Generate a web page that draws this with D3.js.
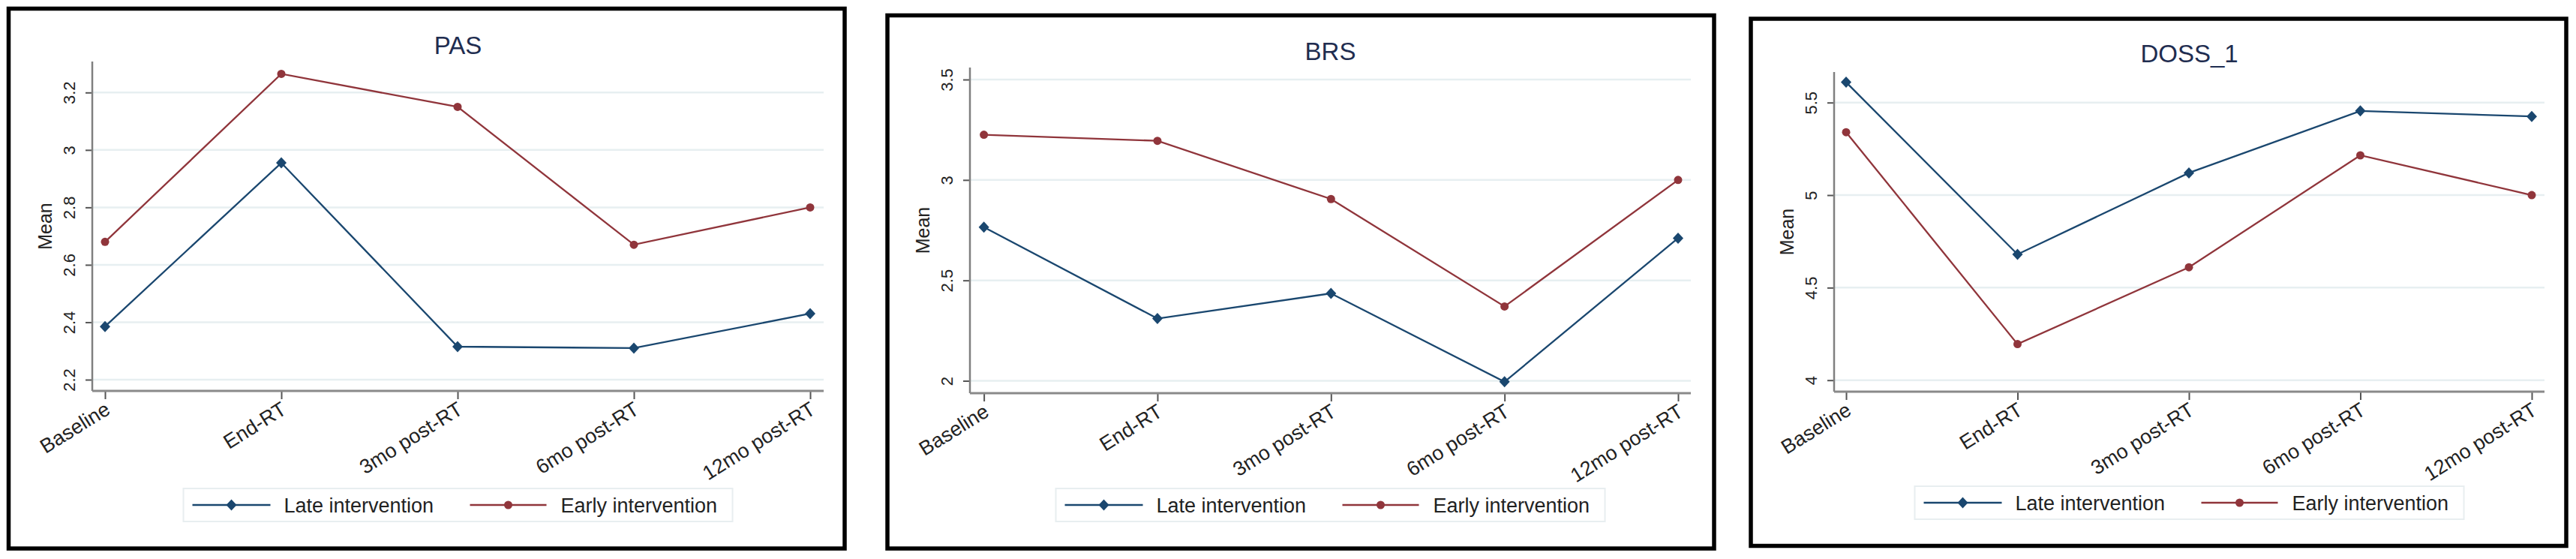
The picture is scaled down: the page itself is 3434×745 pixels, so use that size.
<!DOCTYPE html>
<html><head><meta charset="utf-8">
<script src="https://cdn.jsdelivr.net/npm/d3@7"></script>
<style>body{margin:0;background:#fff}svg{display:block}text{font-family:"Liberation Sans",Arial,sans-serif}</style>
</head><body><svg id="c" width="3434" height="745"></svg>
<script>
// ---- data ----
const categories = ["Baseline","End-RT","3mo post-RT","6mo post-RT","12mo post-RT"];
const seriesNames = ["Late intervention","Early intervention"];
const titles = ["PAS","BRS","DOSS_1"];
const pasLate  = [2.385, 2.955, 2.315, 2.31, 2.43];
const pasEarly = [2.68, 3.265, 3.15, 2.67, 2.80];
const brsLate  = [2.765, 2.31, 2.435, 1.995, 2.71];
const brsEarly = [3.225, 3.195, 2.905, 2.37, 3.0];
const dossLate  = [5.61, 4.68, 5.12, 5.455, 5.425];
const dossEarly = [5.34, 4.195, 4.61, 5.215, 5.0];
const pasTicks  = [2.2, 2.4, 2.6, 2.8, 3, 3.2];
const brsTicks  = [2, 2.5, 3, 3.5];
const dossTicks = [4, 4.5, 5, 5.5];

// ---- layout ----
const panels = [
  {title: titles[0], late: pasLate, early: pasEarly, ticks: pasTicks,
   frame: [11.5, 11.5, 1126, 731], plot: [123, 1098, 82, 521], xr: [140, 1080], yr: [506, 123.3], titleY: 72, legY: 673},
  {title: titles[1], late: brsLate, early: brsEarly, ticks: brsTicks,
   frame: [1183, 20.5, 2285, 731], plot: [1293, 2254, 90, 524], xr: [1311.6, 2237], yr: [507.5, 106], titleY: 80, legY: 673},
  {title: titles[2], late: dossLate, early: dossEarly, ticks: dossTicks,
   frame: [2334, 25, 3421, 727.5], plot: [2445, 3392, 96, 522], xr: [2461, 3375], yr: [506.7, 136.7], titleY: 83, legY: 670}
];
const NAVY = "#1a476f", MAROON = "#90353b";
const diamond = "M0,-7.5L7,0L0,7.5L-7,0Z";
const svg = d3.select("#c");

panels.forEach(p => {
  const g = svg.append("g");
  const [L, R, T, B] = p.plot;
  const cx = (L + R) / 2;
  const x = d3.scalePoint().domain(categories).range(p.xr);
  const y = d3.scaleLinear().domain(d3.extent(p.ticks)).range(p.yr);

  // frame
  g.append("rect").attr("x", p.frame[0]).attr("y", p.frame[1])
    .attr("width", p.frame[2] - p.frame[0]).attr("height", p.frame[3] - p.frame[1])
    .attr("fill", "#fff").attr("stroke", "#000").attr("stroke-width", 5.5);

  // grid
  g.selectAll(".grid").data(p.ticks).join("line")
    .attr("x1", L).attr("x2", R).attr("y1", d => y(d)).attr("y2", d => y(d))
    .attr("stroke", "#e7eff1").attr("stroke-width", 2.5);

  // y axis
  const ya = g.append("g").attr("transform", `translate(${L},0)`)
    .call(d3.axisLeft(y).tickValues(p.ticks).tickSize(9).tickSizeOuter(0).tickFormat(d3.format("~g")));
  ya.select(".domain").remove();
  ya.selectAll(".tick line").attr("stroke", "#555").attr("stroke-width", 2);
  ya.selectAll(".tick text").attr("x", 0).attr("y", -23).attr("dy", 0)
    .attr("transform", "rotate(-90)").attr("text-anchor", "middle")
    .attr("font-size", 22).attr("fill", "#222").attr("font-family", "Liberation Sans, Arial, sans-serif");
  g.append("line").attr("x1", L).attr("x2", L).attr("y1", T).attr("y2", B)
    .attr("stroke", "#808080").attr("stroke-width", 2.5);

  // x axis
  const xa = g.append("g").attr("transform", `translate(0,${B})`)
    .call(d3.axisBottom(x).tickSize(11).tickSizeOuter(0));
  xa.select(".domain").remove();
  xa.selectAll(".tick line").attr("stroke", "#555").attr("stroke-width", 2);
  xa.selectAll(".tick text").attr("x", 0).attr("y", 0).attr("dy", "0.71em")
    .attr("transform", "translate(-2,13) rotate(-32)").attr("text-anchor", "end")
    .attr("font-size", 27).attr("fill", "#222").attr("font-family", "Liberation Sans, Arial, sans-serif");
  g.append("line").attr("x1", L).attr("x2", R).attr("y1", B).attr("y2", B)
    .attr("stroke", "#8a8a8a").attr("stroke-width", 3);

  // y title
  g.append("text").attr("transform", `translate(${L - 54},${(T + B) / 2}) rotate(-90)`)
    .attr("text-anchor", "middle").attr("font-size", 25).attr("fill", "#222").text("Mean");

  // title
  g.append("text").attr("x", cx).attr("y", p.titleY).attr("text-anchor", "middle")
    .attr("font-size", 33).attr("fill", "#1f2d50").text(p.title);

  // series
  const line = d3.line().x((d, i) => x(categories[i])).y(d => y(d));
  const series = [{v: p.late, c: NAVY, m: "d"}, {v: p.early, c: MAROON, m: "o"}];
  series.forEach(s => {
    g.append("path").attr("d", line(s.v)).attr("fill", "none").attr("stroke", s.c).attr("stroke-width", 2.3);
    if (s.m === "d") {
      g.selectAll(null).data(s.v).join("path").attr("d", diamond)
        .attr("transform", (d, i) => `translate(${x(categories[i])},${y(d)})`).attr("fill", s.c);
    } else {
      g.selectAll(null).data(s.v).join("circle").attr("r", 5.5)
        .attr("cx", (d, i) => x(categories[i])).attr("cy", d => y(d)).attr("fill", s.c);
    }
  });

  // legend
  const lg = g.append("g").attr("transform", `translate(${cx},${p.legY})`);
  lg.append("rect").attr("x", -366).attr("y", -22).attr("width", 732).attr("height", 44)
    .attr("fill", "#fff").attr("stroke", "#e8eef0").attr("stroke-width", 2);
  const items = [
    {name: seriesNames[0], c: NAVY, m: "d", l0: -354, l1: -250, mx: -302, tx: -232},
    {name: seriesNames[1], c: MAROON, m: "o", l0: 16, l1: 118, mx: 67, tx: 137}
  ];
  items.forEach(it => {
    lg.append("line").attr("x1", it.l0).attr("x2", it.l1).attr("y1", 0).attr("y2", 0)
      .attr("stroke", it.c).attr("stroke-width", 2.3);
    if (it.m === "d") lg.append("path").attr("d", diamond).attr("transform", `translate(${it.mx},0)`).attr("fill", it.c);
    else lg.append("circle").attr("cx", it.mx).attr("cy", 0).attr("r", 5.5).attr("fill", it.c);
    lg.append("text").attr("x", it.tx).attr("y", 0).attr("dy", "0.36em")
      .attr("font-size", 27).attr("fill", "#222").text(it.name);
  });
});
</script></body></html>
